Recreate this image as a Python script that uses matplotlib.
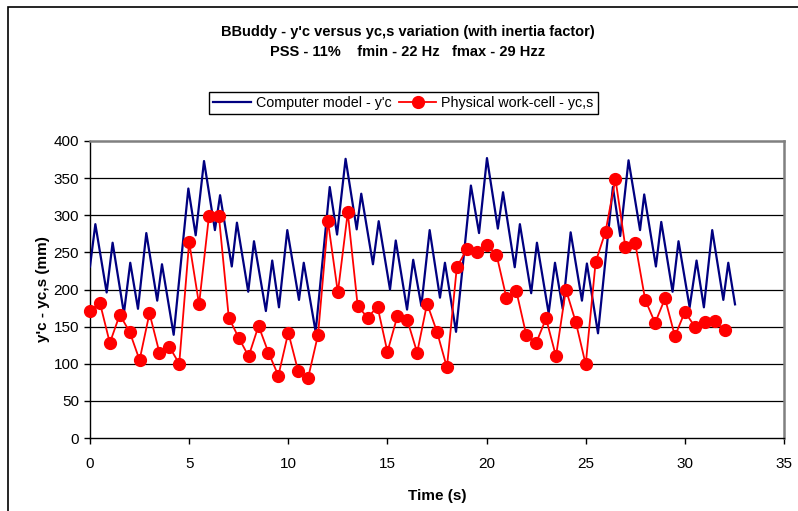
import matplotlib
matplotlib.use("Agg")
import matplotlib.pyplot as plt
from matplotlib.patches import Rectangle

plt.rcParams['font.family'] = ['Liberation Sans', 'DejaVu Sans']

# Computer model - y'c (zigzag vertices)
model_t = [0.00, 0.27, 0.84, 1.14, 1.71, 2.03, 2.42, 2.84, 3.39, 3.63, 4.22, 4.96, 5.33, 5.75,
           6.30, 6.56, 7.15, 7.41, 7.98, 8.27, 8.87, 9.19, 9.53, 9.95, 10.54, 10.78, 11.38,
           12.09, 12.46, 12.89, 13.45, 13.68, 14.27, 14.56, 15.13, 15.42, 15.99, 16.30, 16.71,
           17.13, 17.65, 17.90, 18.46, 19.21, 19.62, 20.02, 20.57, 20.83, 21.42, 21.68, 22.25,
           22.54, 23.13, 23.45, 23.84, 24.24, 24.81, 25.06, 25.62, 26.37, 26.74, 27.16, 27.74,
           27.95, 28.54, 28.81, 29.38, 29.68, 30.24, 30.59, 30.96, 31.38, 31.94, 32.19, 32.53]
model_y = [231, 288, 196, 263, 168, 236, 174, 276, 185, 234, 139, 336, 273, 373,
           280, 327, 231, 290, 197, 265, 171, 239, 176, 280, 186, 236, 143,
           338, 274, 376, 281, 329, 234, 292, 200, 266, 173, 240, 178,
           280, 189, 236, 143, 340, 276, 377, 282, 331, 230, 288, 195,
           263, 168, 236, 174, 277, 185, 235, 141, 338, 272, 374, 280,
           328, 231, 291, 197, 265, 176, 239, 176, 280, 186, 236, 180]

# Physical work-cell - yc,s
cell_t = [0, 0.5, 1, 1.5, 2, 2.5, 3, 3.5, 4, 4.5, 5, 5.5, 6, 6.5, 7, 7.5, 8, 8.5, 9, 9.5,
          10, 10.5, 11, 11.5, 12, 12.5, 13, 13.5, 14, 14.5, 15, 15.5, 16, 16.5, 17, 17.5,
          18, 18.5, 19, 19.5, 20, 20.5, 21, 21.5, 22, 22.5, 23, 23.5, 24, 24.5, 25, 25.5,
          26, 26.5, 27, 27.5, 28, 28.5, 29, 29.5, 30, 30.5, 31, 31.5, 32]
cell_y = [171, 182, 128, 166, 143, 105, 168, 115, 123, 100, 264, 180, 299, 299, 162, 135,
          110, 151, 115, 84, 142, 90, 81, 139, 292, 196, 304, 178, 162, 177, 116, 164, 159,
          115, 181, 143, 95, 230, 254, 250, 260, 247, 189, 198, 139, 128, 161, 110, 200, 156,
          99, 237, 278, 349, 257, 262, 186, 155, 188, 137, 170, 150, 156, 158, 145]

x_ticks = [0, 5, 10, 15, 20, 25, 30, 35]
y_ticks = [0, 50, 100, 150, 200, 250, 300, 350, 400]

W, H = 798, 511
fig = plt.figure(figsize=(W / 100, H / 100), dpi=100)
fig.patch.set_facecolor('white')

# outer chart border
fig.patches.append(Rectangle((8 / W, -0.05), 1.2, 1 - 7 / H + 0.05, transform=fig.transFigure,
                             fill=False, edgecolor='black', linewidth=1.2))

ax = fig.add_axes([90 / W, (H - 438) / H, (784 - 90) / W, (438 - 141) / H])
ax.set_xlim(0, 35)
ax.set_ylim(0, 400)
ax.set_xticks(x_ticks)
ax.set_yticks(y_ticks)
ax.tick_params(direction='out', length=4.3, width=1, labelsize=11, colors='black')
ax.tick_params(axis='y', pad=3.6)
ax.tick_params(axis='x', pad=9.5)

for v in y_ticks[1:-1]:
    ax.axhline(v, color='black', linewidth=0.9, zorder=1)

for s in ['left', 'bottom']:
    ax.spines[s].set_color('black')
    ax.spines[s].set_linewidth(1.0)
for s in ['top', 'right']:
    ax.spines[s].set_color('#808080')
    ax.spines[s].set_linewidth(1.8)

ax.plot(model_t, model_y, color='#000080', linewidth=1.6, zorder=3,
        label="Computer model - y'c")
ax.plot(cell_t, cell_y, color='#FF0000', linewidth=1.3, marker='o', markersize=8.5,
        markeredgecolor='#FF0000', markerfacecolor='#FF0000', zorder=4, clip_on=False,
        label='Physical work-cell - yc,s')

ax.set_xlabel('Time (s)', fontsize=11, fontweight='bold', labelpad=13)
ax.set_ylabel("y'c - yc,s (mm)", fontsize=11, fontweight='bold', labelpad=2.5)

fig.text(408 / W, 1 - 32 / H, "BBuddy - y'c versus yc,s variation (with inertia factor)",
         ha='center', va='center', fontsize=10.5, fontweight='bold')
fig.text(408 / W, 1 - 52 / H, "PSS - 11%    fmin - 22 Hz   fmax - 29 Hzz",
         ha='center', va='center', fontsize=10.5, fontweight='bold')

leg = fig.legend(loc='center', bbox_to_anchor=(403.5 / W, 1 - 103 / H), ncol=2,
                 fontsize=10.3, frameon=True, fancybox=False, edgecolor='black',
                 handlelength=2.6, columnspacing=0.56, handletextpad=0.35,
                 borderpad=0.3, borderaxespad=0, framealpha=1)
leg.get_frame().set_linewidth(1.0)

fig.savefig('out.png', dpi=100)
